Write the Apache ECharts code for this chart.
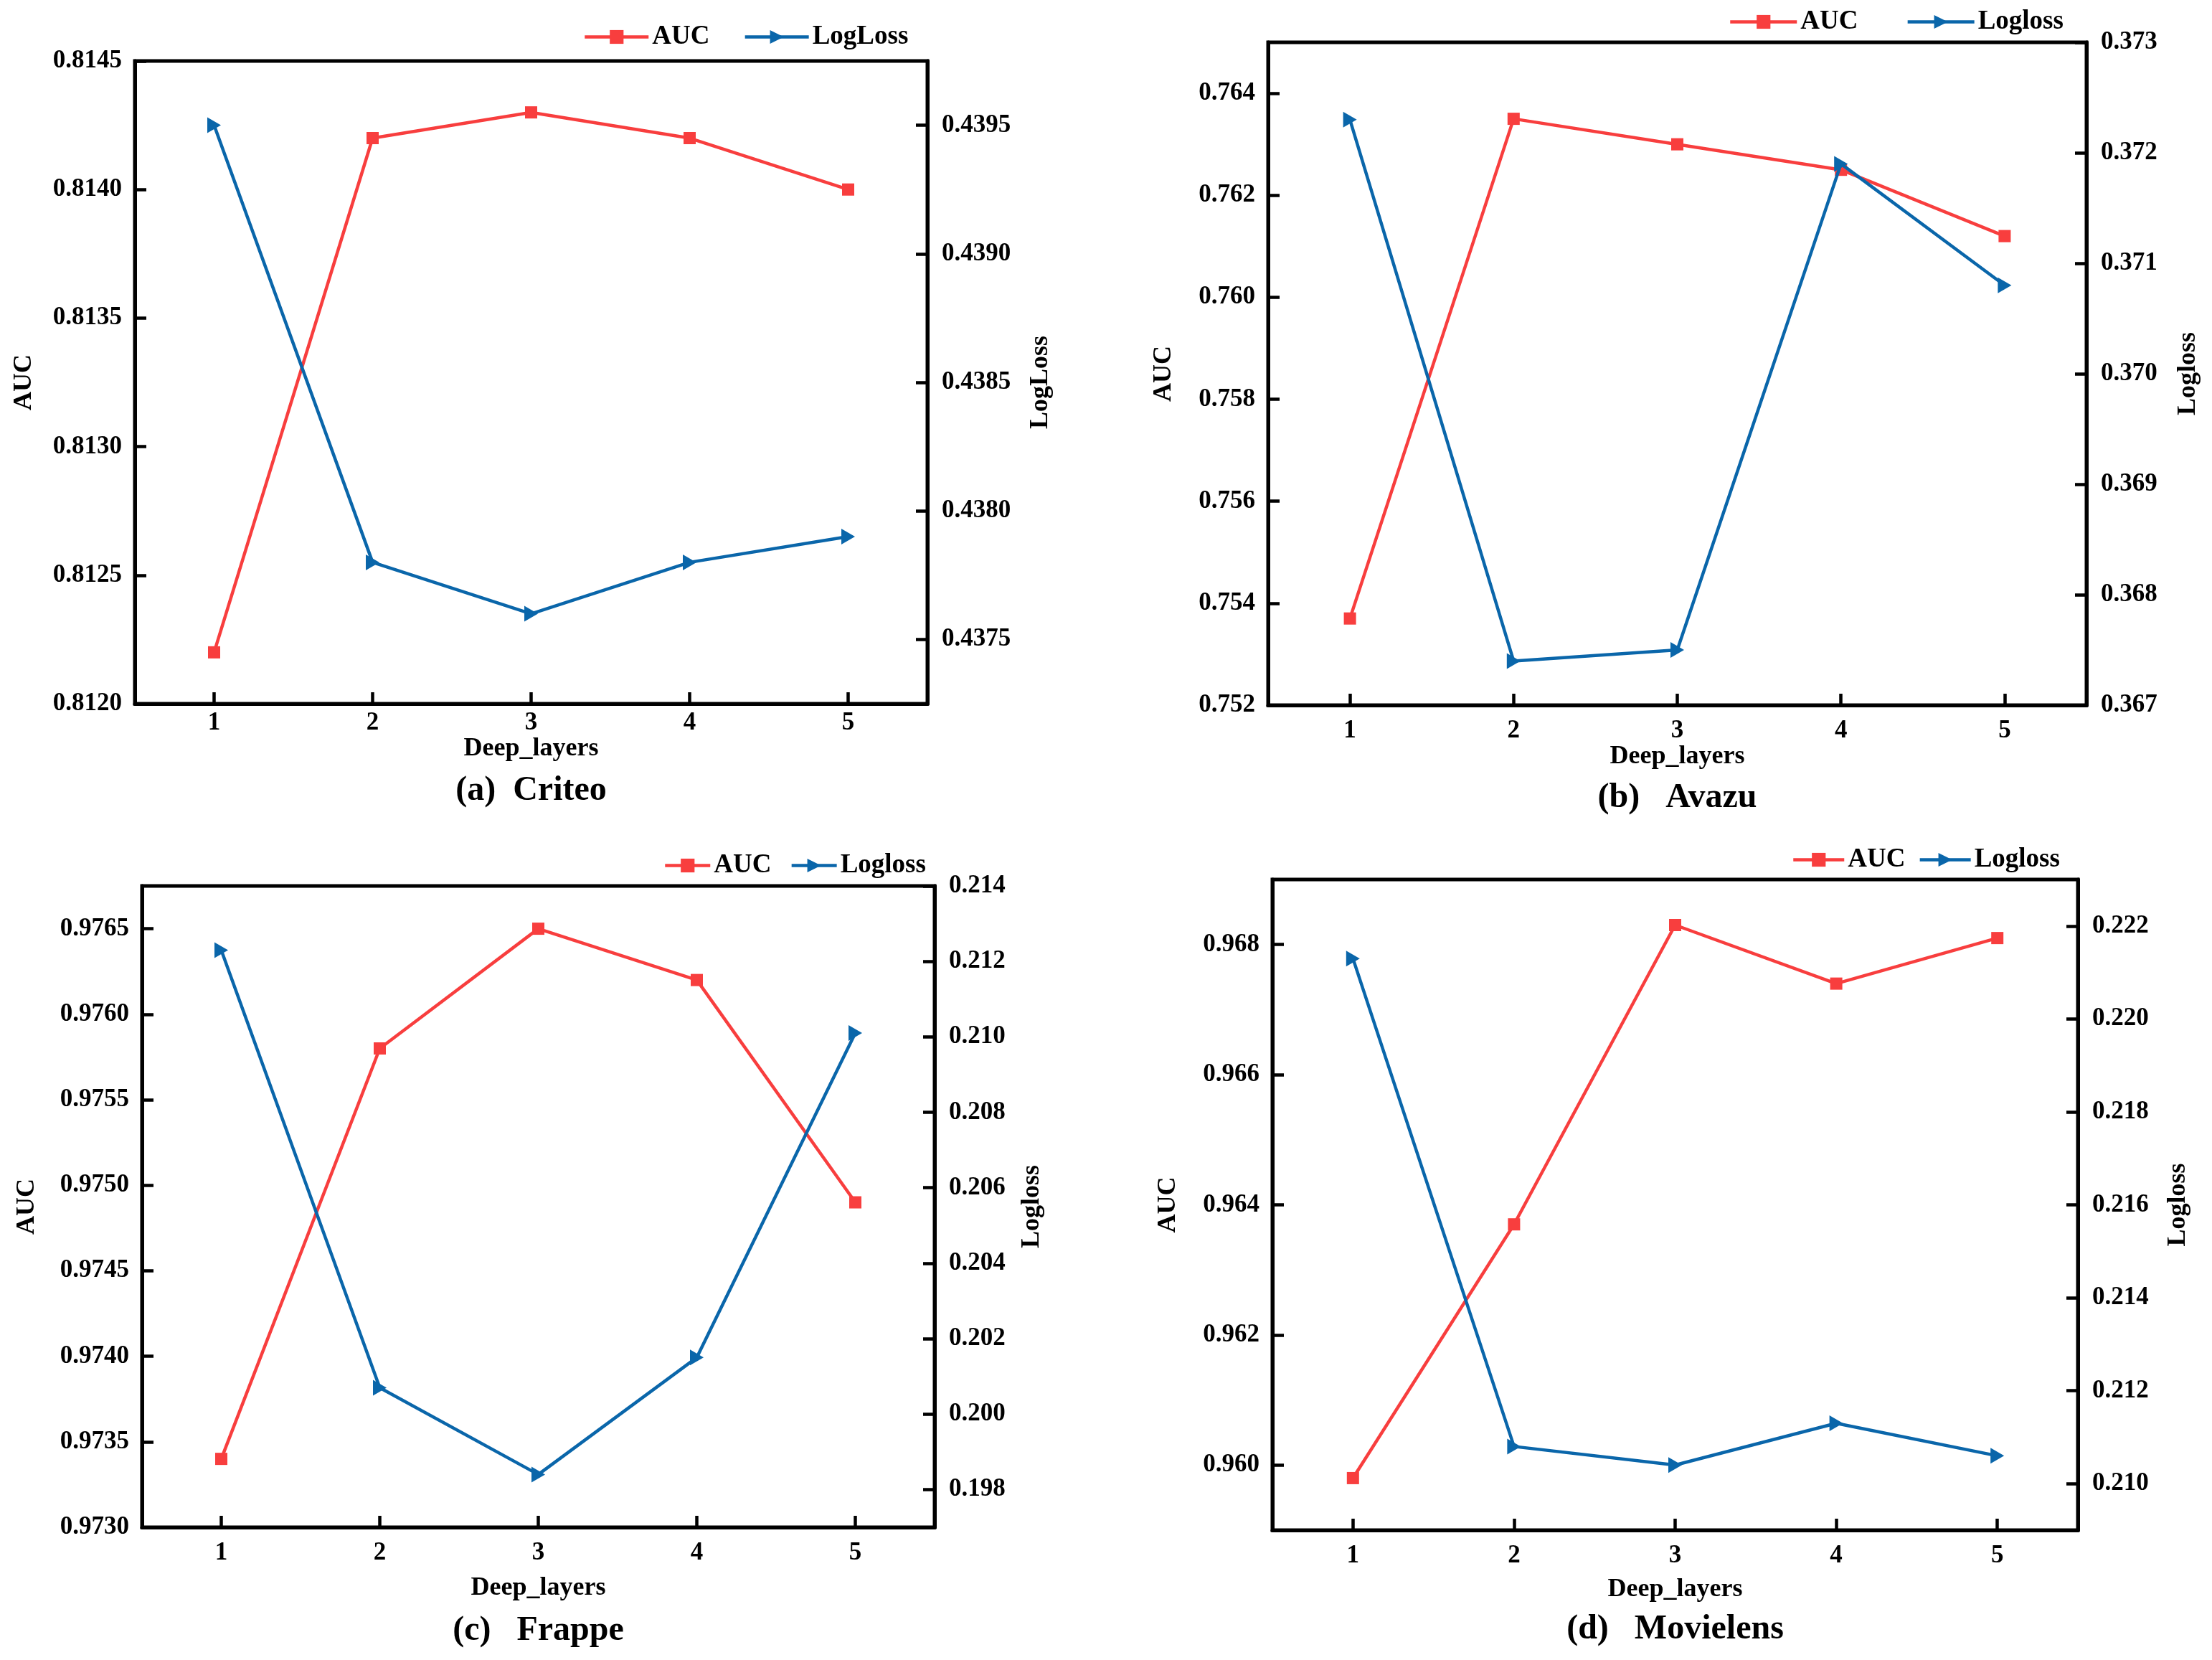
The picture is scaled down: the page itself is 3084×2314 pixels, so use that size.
<!DOCTYPE html>
<html>
<head>
<meta charset="utf-8">
<script src="https://cdn.jsdelivr.net/npm/echarts@6/dist/echarts.min.js"></script>
<style>
html,body{margin:0;padding:0;background:#fff;}
#chart{width:3084px;height:2314px;}
</style>
</head>
<body>
<div id="chart"></div>
<script>
// ---------- data ----------
const layers = ['1', '2', '3', '4', '5'];

const criteoAUC = [0.8122, 0.8142, 0.8143, 0.8142, 0.8140];
const criteoLogLoss = [0.4395, 0.4378, 0.4376, 0.4378, 0.4379];
const criteoAUCTicks = [0.8120, 0.8125, 0.8130, 0.8135, 0.8140, 0.8145];
const criteoLogLossTicks = [0.4375, 0.4380, 0.4385, 0.4390, 0.4395];
const criteoAUCRange = [0.8120, 0.8145];
const criteoLogLossRange = [0.43725, 0.43975];

const avazuAUC = [0.7537, 0.7635, 0.7630, 0.7625, 0.7612];
const avazuLogloss = [0.3723, 0.3674, 0.3675, 0.3719, 0.3708];
const avazuAUCTicks = [0.752, 0.754, 0.756, 0.758, 0.760, 0.762, 0.764];
const avazuLoglossTicks = [0.367, 0.368, 0.369, 0.370, 0.371, 0.372, 0.373];
const avazuAUCRange = [0.752, 0.765];
const avazuLoglossRange = [0.367, 0.373];

const frappeAUC = [0.9734, 0.9758, 0.9765, 0.9762, 0.9749];
const frappeLogloss = [0.2123, 0.2007, 0.1984, 0.2015, 0.2101];
const frappeAUCTicks = [0.9730, 0.9735, 0.9740, 0.9745, 0.9750, 0.9755, 0.9760, 0.9765];
const frappeLoglossTicks = [0.198, 0.200, 0.202, 0.204, 0.206, 0.208, 0.210, 0.212, 0.214];
const frappeAUCRange = [0.9730, 0.97675];
const frappeLoglossRange = [0.197, 0.214];

const movielensAUC = [0.9598, 0.9637, 0.9683, 0.9674, 0.9681];
const movielensLogloss = [0.2213, 0.2108, 0.2104, 0.2113, 0.2106];
const movielensAUCTicks = [0.960, 0.962, 0.964, 0.966, 0.968];
const movielensLoglossTicks = [0.210, 0.212, 0.214, 0.216, 0.218, 0.220, 0.222];
const movielensAUCRange = [0.959, 0.969];
const movielensLoglossRange = [0.209, 0.223];

const panelTitles = ['(a)  Criteo', '(b)   Avazu', '(c)   Frappe', '(d)   Movielens'];
const rightNames = ['LogLoss', 'Logloss', 'Logloss', 'Logloss'];

// ---------- layout / style ----------
const FONT = 'Liberation Serif';
const RED = '#F83E3E';
const BLUE = '#0A66AA';

const panels = [
  { auc: criteoAUC, loss: criteoLogLoss, aucTicks: criteoAUCTicks, lossTicks: criteoLogLossTicks,
    aucRange: criteoAUCRange, lossRange: criteoLogLossRange, leftDec: 4, rightDec: 4,
    grid: { left: 188, top: 85, width: 1105, height: 896 },
    xMargin: 9, xNameGap: 43, leftNameGap: 136, rightNameGap: 140, titleTop: 1079,
    legend: { left: 813, cy: 51, itemWidth: 89, itemGap: 47 } },
  { auc: avazuAUC, loss: avazuLogloss, aucTicks: avazuAUCTicks, lossTicks: avazuLoglossTicks,
    aucRange: avazuAUCRange, lossRange: avazuLoglossRange, leftDec: 3, rightDec: 3,
    grid: { left: 1768, top: 59, width: 1141, height: 924 },
    xMargin: 18, xNameGap: 48, leftNameGap: 127, rightNameGap: 124, titleTop: 1089,
    legend: { left: 2410, cy: 30, itemWidth: 93, itemGap: 67 } },
  { auc: frappeAUC, loss: frappeLogloss, aucTicks: frappeAUCTicks, lossTicks: frappeLoglossTicks,
    aucRange: frappeAUCRange, lossRange: frappeLoglossRange, leftDec: 4, rightDec: 3,
    grid: { left: 198, top: 1235, width: 1105, height: 894 },
    xMargin: 18, xNameGap: 67, leftNameGap: 142, rightNameGap: 118, titleTop: 2250,
    legend: { left: 925, cy: 1206, itemWidth: 63, itemGap: 26 } },
  { auc: movielensAUC, loss: movielensLogloss, aucTicks: movielensAUCTicks, lossTicks: movielensLoglossTicks,
    aucRange: movielensAUCRange, lossRange: movielensLoglossRange, leftDec: 3, rightDec: 3,
    grid: { left: 1774, top: 1226, width: 1123, height: 907 },
    xMargin: 18, xNameGap: 65, leftNameGap: 127, rightNameGap: 122, titleTop: 2248,
    legend: { left: 2498, cy: 1198, itemWidth: 71, itemGap: 18 } }
];

const labelStyle = { fontFamily: FONT, fontWeight: 'bold', fontSize: 35, color: '#000' };
const nameStyle = { fontFamily: FONT, fontWeight: 'bold', fontSize: 36, color: '#000', padding: 0 };
const axisLine = { show: true, onZero: false, lineStyle: { color: '#000', width: 5 } };
const tickStyle = { show: true, inside: true, length: 16, lineStyle: { color: '#000', width: 4.5 } };
const TRI = 'path://M0,0L10,5L0,10Z';

const option = { animation: false, backgroundColor: '#fff', grid: [], xAxis: [], yAxis: [], series: [], legend: [], title: [] };

panels.forEach((p, i) => {
  option.grid.push(Object.assign({ show: true, borderColor: '#000', borderWidth: 5, containLabel: false }, p.grid));
  option.xAxis.push({
    type: 'category', gridIndex: i, data: layers, boundaryGap: true,
    name: 'Deep_layers', nameLocation: 'middle', nameGap: p.xNameGap, nameTextStyle: nameStyle,
    axisLine: axisLine, axisTick: Object.assign({ alignWithLabel: true }, tickStyle),
    axisLabel: Object.assign({ margin: p.xMargin }, labelStyle), splitLine: { show: false }
  });
  option.yAxis.push({
    type: 'value', gridIndex: i, position: 'left', min: p.aucRange[0], max: p.aucRange[1],
    name: 'AUC', nameLocation: 'middle', nameRotate: 90, nameGap: p.leftNameGap, nameTextStyle: nameStyle,
    axisLine: axisLine, axisTick: Object.assign({ customValues: p.aucTicks }, tickStyle),
    axisLabel: Object.assign({ margin: 18, customValues: p.aucTicks, formatter: v => Number(v).toFixed(p.leftDec) }, labelStyle),
    splitLine: { show: false }
  });
  option.yAxis.push({
    type: 'value', gridIndex: i, position: 'right', min: p.lossRange[0], max: p.lossRange[1],
    name: rightNames[i], nameLocation: 'middle', nameRotate: 90, nameGap: p.rightNameGap, nameTextStyle: nameStyle,
    axisLine: axisLine, axisTick: Object.assign({ customValues: p.lossTicks }, tickStyle),
    axisLabel: Object.assign({ margin: 20, customValues: p.lossTicks, formatter: v => Number(v).toFixed(p.rightDec) }, labelStyle),
    splitLine: { show: false }
  });
  option.series.push({
    type: 'line', name: 'AUC', xAxisIndex: i, yAxisIndex: 2 * i, data: p.auc,
    symbol: 'rect', symbolSize: 17, color: RED,
    lineStyle: { color: RED, width: 4.5 }, itemStyle: { color: RED }, z: 3
  });
  option.series.push({
    type: 'line', name: rightNames[i], xAxisIndex: i, yAxisIndex: 2 * i + 1, data: p.loss,
    symbol: TRI, symbolSize: [19, 22], color: BLUE,
    lineStyle: { color: BLUE, width: 4.5 }, itemStyle: { color: BLUE }, z: 4
  });
  option.legend.push({
    data: ['AUC', rightNames[i]], left: p.legend.left, top: p.legend.cy - 18, padding: 0,
    itemWidth: p.legend.itemWidth, itemHeight: 24, itemGap: p.legend.itemGap, orient: 'horizontal',
    lineStyle: { width: 4.5 },
    textStyle: { fontFamily: FONT, fontWeight: 'bold', fontSize: 37, color: '#000', lineHeight: 36 },
    selectedMode: false
  });
  option.title.push({
    text: panelTitles[i], left: p.grid.left + p.grid.width / 2, top: p.titleTop, textAlign: 'center', padding: 0,
    textStyle: { fontFamily: FONT, fontWeight: 'bold', fontSize: 48, color: '#000' }
  });
});

const chart = echarts.init(document.getElementById('chart'), null, { renderer: 'canvas' });
chart.setOption(option);
</script>
</body>
</html>
